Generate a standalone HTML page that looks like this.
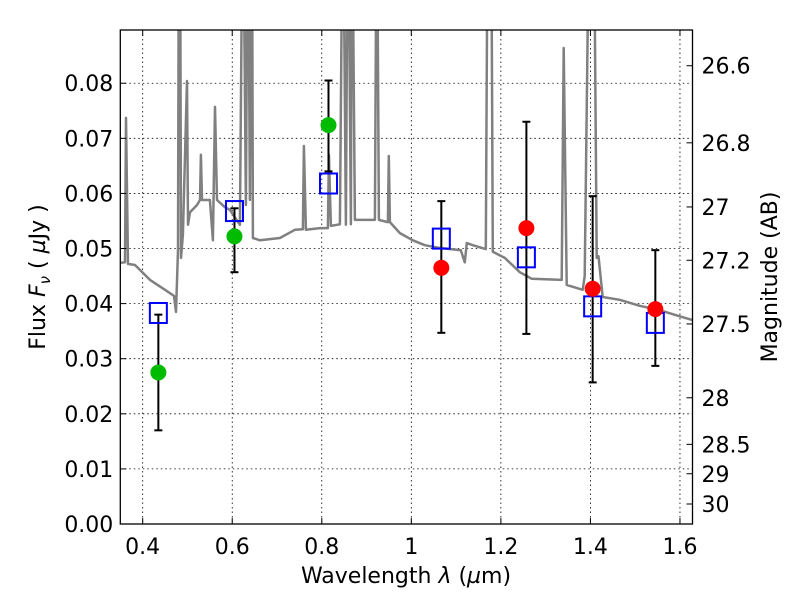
<!DOCTYPE html>
<html><head><meta charset="utf-8"><style>
body{margin:0;background:#fff}
svg text{font-family:"DejaVu Sans","Liberation Sans",sans-serif;fill:#000}
</style></head><body>
<svg id="chart" width="800" height="600" viewBox="0 0 800 600" xmlns="http://www.w3.org/2000/svg">
<defs><clipPath id="pc"><rect x="120.3" y="30" width="572.2" height="494"/></clipPath></defs>
<rect width="800" height="600" fill="#fff"/>
<g id="grid"></g>
<g id="spec" clip-path="url(#pc)"></g>
<g id="marks" clip-path="url(#pc)"></g>
<rect x="120.3" y="30" width="572.2" height="494" fill="none" stroke="#000" stroke-width="1.3"/>
<g id="axes"></g>
<text x="406" y="583" font-size="22" text-anchor="middle">Wavelength  <tspan font-style="italic">λ</tspan> (<tspan font-style="italic">µ</tspan>m)</text>
<text transform="translate(45,277) rotate(-90)" font-size="22" text-anchor="middle">Flux  <tspan font-style="italic">F</tspan><tspan font-style="italic" font-size="15" dy="5">ν</tspan><tspan dy="-5">  ( </tspan><tspan font-style="italic">µ</tspan>Jy )</text>
<text transform="translate(777,277) rotate(-90)" font-size="22" text-anchor="middle">Magnitude (AB)</text>
</svg>
<script>
const specLam=[0.3515,0.3605,0.3627,0.3672,0.3828,0.4163,0.4498,0.4699,0.4743,0.4788,0.481,0.4833,0.4855,0.4899,0.4989,0.5011,0.5056,0.5212,0.5279,0.5301,0.5324,0.5502,0.5569,0.5614,0.5659,0.5837,0.5949,0.6172,0.6239,0.6306,0.6351,0.6395,0.644,0.6462,0.6618,0.7065,0.74,0.7578,0.76,0.7645,0.7957,0.8136,0.8158,0.8203,0.8404,0.8471,0.8538,0.8583,0.865,0.8672,0.8739,0.9186,0.923,0.9275,0.9476,0.9498,0.9521,0.9744,1.0034,1.0302,1.0637,1.1106,1.1195,1.124,1.1374,1.1664,1.171,1.178,1.1819,1.2087,1.2422,1.269,1.3359,1.3404,1.3471,1.3828,1.3873,1.3985,1.407,1.414,1.418,1.4274,1.4654,1.51,1.5547,1.5993,1.628];
const specFlux=[0.0474,0.0475,0.0737,0.0472,0.047,0.0443,0.0425,0.0414,0.0385,0.0497,0.12,0.12,0.0483,0.0525,0.0804,0.0543,0.0566,0.0579,0.0588,0.067,0.0588,0.0588,0.0515,0.0757,0.0588,0.0575,0.057,0.0543,0.12,0.0579,0.12,0.0588,0.12,0.0519,0.0515,0.0519,0.0534,0.0535,0.0686,0.0534,0.0537,0.0537,0.067,0.0541,0.0544,0.12,0.0543,0.12,0.0544,0.12,0.0552,0.0552,0.12,0.0552,0.0548,0.0668,0.0548,0.0528,0.0515,0.0506,0.0501,0.0497,0.0475,0.051,0.0506,0.0499,0.12,0.12,0.0494,0.0483,0.0457,0.0445,0.0443,0.0864,0.0434,0.0425,0.045,0.12,0.12,0.0483,0.0486,0.0412,0.0407,0.0396,0.0388,0.0377,0.037];
const greenLam=[0.435,0.605,0.815];
const greenFlux=[0.0275,0.0522,0.0724];
const greenLo=[0.017,0.0457,0.064];
const greenHi=[0.038,0.0573,0.0805];
const redLam=[1.067,1.257,1.405,1.545];
const redFlux=[0.0465,0.0537,0.0427,0.039];
const redLo=[0.0347,0.0345,0.0257,0.0287];
const redHi=[0.0586,0.073,0.0595,0.0497];
const modelLam=[0.435,0.605,0.815,1.067,1.257,1.405,1.545];
const modelFlux=[0.0383,0.0568,0.0618,0.0518,0.0484,0.0395,0.0365];
const xTicks=[0.4,0.6,0.8,1.0,1.2,1.4,1.6];
const xTickLabels=["0.4","0.6","0.8","1","1.2","1.4","1.6"];
const yTicks=[0,0.01,0.02,0.03,0.04,0.05,0.06,0.07,0.08];
const yTickLabels=["0.00","0.01","0.02","0.03","0.04","0.05","0.06","0.07","0.08"];
const magTicks=[26.6,26.8,27,27.2,27.5,28,28.5,29,30];
const magTickLabels=["26.6","26.8","27","27.2","27.5","28","28.5","29","30"];

const L=120.3,R=692.5,T=30,B=524,xmin=0.35,xmax=1.628,ymin=0,ymax=0.08966;
const X=v=>L+(v-xmin)/(xmax-xmin)*(R-L);
const Y=v=>B-(v-ymin)/(ymax-ymin)*(B-T);
const magToFlux=m=>Math.pow(10,(23.9-m)/2.5);
const NS="http://www.w3.org/2000/svg";
function mk(tag,parent,attrs){const e=document.createElementNS(NS,tag);for(const k in attrs)e.setAttribute(k,attrs[k]);document.getElementById(parent).appendChild(e);return e;}

xTicks.forEach((t,i)=>{const x=X(t);
 let g=mk('line','grid',{x1:x,x2:x,y1:T,y2:B,stroke:'#000','stroke-width':0.8,'stroke-dasharray':'1.5,3'});
 
 
 mk('line','axes',{x1:x,x2:x,y1:B,y2:B-6,stroke:'#000'});
 mk('line','axes',{x1:x,x2:x,y1:T,y2:T+6,stroke:'#000'});
 let tx=mk('text','axes',{x:x,y:B+30,'font-size':22,'text-anchor':'middle'});tx.textContent=xTickLabels[i];
 
 
});
yTicks.forEach((t,i)=>{const y=Y(t);
 let g=mk('line','grid',{x1:L,x2:R,y1:y,y2:y,stroke:'#000','stroke-width':0.8,'stroke-dasharray':'1.5,3'});
 
 
 mk('line','axes',{x1:L,x2:L+6,y1:y,y2:y,stroke:'#000'});
 let tx=mk('text','axes',{x:L-7,y:y+8,'font-size':22,'text-anchor':'end'});tx.textContent=yTickLabels[i];
 
 
});
magTicks.forEach((m,i)=>{const y=Y(magToFlux(m));
 mk('line','axes',{x1:R,x2:R-6,y1:y,y2:y,stroke:'#000'});
 let tx=mk('text','axes',{x:R+9,y:y+8,'font-size':22,'text-anchor':'start'});tx.textContent=magTickLabels[i];
 
 
});
let d=specLam.map((l,i)=>(i?'L':'M')+X(l).toFixed(1)+','+Y(specFlux[i]).toFixed(1)).join('');
let sp=mk('path','spec',{d:d,fill:'none',stroke:'#808080','stroke-width':2.5,'stroke-linejoin':'round'});


function errbar(lam,lo,hi){const x=X(lam);
 let e=mk('line','marks',{x1:x,x2:x,y1:Y(lo),y2:Y(hi),stroke:'#000','stroke-width':2});
 
 
 mk('line','marks',{x1:x-4,x2:x+4,y1:Y(lo),y2:Y(lo),stroke:'#000','stroke-width':2});
 mk('line','marks',{x1:x-4,x2:x+4,y1:Y(hi),y2:Y(hi),stroke:'#000','stroke-width':2});
}
greenLam.forEach((l,i)=>errbar(l,greenLo[i],greenHi[i]));
redLam.forEach((l,i)=>errbar(l,redLo[i],redHi[i]));
modelLam.forEach((l,i)=>{
 let r=mk('rect','marks',{x:X(l)-8.5,y:Y(modelFlux[i])-10,width:17,height:20,fill:'none',stroke:'#0000ff','stroke-width':2});
 
 
});
greenLam.forEach((l,i)=>{
 let c=mk('circle','marks',{cx:X(l),cy:Y(greenFlux[i]),r:8,fill:'#00bb00'});
 
 
});
redLam.forEach((l,i)=>{
 let c=mk('circle','marks',{cx:X(l),cy:Y(redFlux[i]),r:8,fill:'#ff0000'});
 
 
});
</script>
</body></html>
